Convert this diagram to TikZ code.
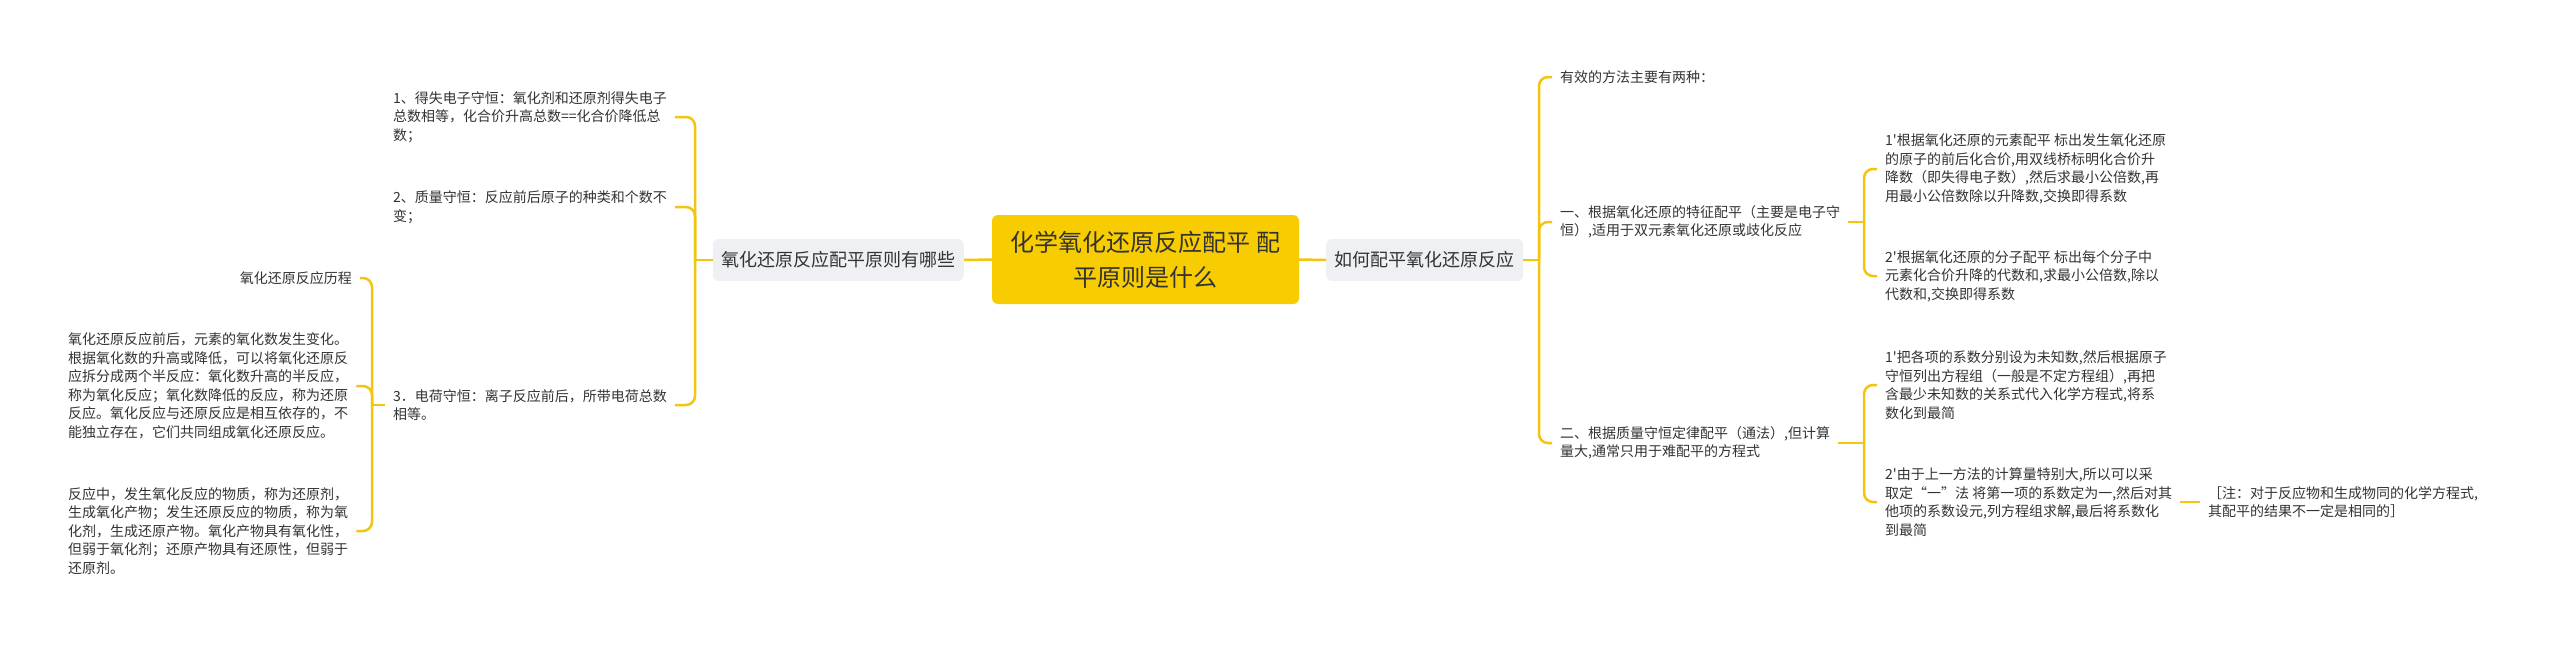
\documentclass[tikz,border=0pt]{standalone}
\usepackage{fontspec}
\newfontfamily\cjk{Noto Sans CJK SC}
\setmainfont{Noto Sans CJK SC}
\definecolor{lineY}{HTML}{F2C511}
\definecolor{rootY}{HTML}{F7CC00}
\definecolor{subG}{HTML}{EEF0F4}
\definecolor{txt}{HTML}{333333}
\begin{document}
\begin{tikzpicture}[x=1pt,y=-1pt,
  leaf/.style={font=\cjk\fontsize{14}{18.5}\selectfont, text=txt, align=left, inner xsep=8pt, inner ysep=2pt},
  root/.style={fill=rootY, rounded corners=6pt, minimum width=307pt, minimum height=89pt, font=\cjk\fontsize{24}{35}\selectfont, align=center, text=txt},
  sub/.style={fill=subG, rounded corners=6pt, minimum height=42pt, font=\cjk\fontsize{18}{22}\selectfont, text=txt, inner xsep=8.5pt},
  link/.style={draw=lineY, line width=2.5pt, rounded corners=9pt}]
\useasboundingbox (0,0) rectangle (2560,645);
\fill[white] (0,0) rectangle (2560,645);

% root and level 1
\node[root] (root) at (1145.5,259.5) {化学氧化还原反应配平 配\\平原则是什么};
\node[sub, anchor=east] (L) at (964,260) {氧化还原反应配平原则有哪些};
\node[sub, anchor=west] (R) at (1326,260) {如何配平氧化还原反应};
\draw[link] (root.west) -- (L.east);
\draw[link] (root.east) -- (R.west);

% left leaves
\node[leaf, anchor=west] (l1) at (385,117) {1、得失电子守恒：氧化剂和还原剂得失电子\\总数相等，化合价升高总数==化合价降低总\\数；};
\node[leaf, anchor=west] (l2) at (385,207) {2、质量守恒：反应前后原子的种类和个数不\\变；};
\node[leaf, anchor=west] (l3) at (385,405) {3．电荷守恒：离子反应前后，所带电荷总数\\相等。};
\coordinate (bL) at (695,260);
\draw[link] (L.west) -- (bL);
\draw[link] (bL) |- (l1.east);
\draw[link] (bL) |- (l2.east);
\draw[link] (bL) |- (l3.east);

\node[leaf, anchor=east] (m1) at (360,278) {氧化还原反应历程};
\node[leaf, anchor=west] (m2) at (60,386) {氧化还原反应前后，元素的氧化数发生变化。\\根据氧化数的升高或降低，可以将氧化还原反\\应拆分成两个半反应：氧化数升高的半反应，\\称为氧化反应；氧化数降低的反应，称为还原\\反应。氧化反应与还原反应是相互依存的，不\\能独立存在，它们共同组成氧化还原反应。};
\node[leaf, anchor=west] (m3) at (60,531) {反应中，发生氧化反应的物质，称为还原剂，\\生成氧化产物；发生还原反应的物质，称为氧\\化剂，生成还原产物。氧化产物具有氧化性，\\但弱于氧化剂；还原产物具有还原性，但弱于\\还原剂。};
\coordinate (b3) at (372,405);
\draw[link] (l3.west) -- (b3);
\draw[link] (b3) |- (m1.east);
\draw[link] (b3) |- (m2.east);
\draw[link] (b3) |- (m3.east);

% right leaves
\coordinate (bR) at (1539,260);
\node[leaf, anchor=west] (r0) at (1552,77) {有效的方法主要有两种：};
\node[leaf, anchor=west] (r1) at (1552,222) {一、根据氧化还原的特征配平（主要是电子守\\恒）,适用于双元素氧化还原或歧化反应};
\node[leaf, anchor=west] (r2) at (1552,443) {二、根据质量守恒定律配平（通法）,但计算\\量大,通常只用于难配平的方程式};
\draw[link] (R.east) -- (bR);
\draw[link] (bR) |- (r0.west);
\draw[link] (bR) |- (r1.west);
\draw[link] (bR) |- (r2.west);

\coordinate (b1) at (1864,222);
\node[leaf, anchor=west] (r11) at (1877,169) {1'根据氧化还原的元素配平 标出发生氧化还原\\的原子的前后化合价,用双线桥标明化合价升\\降数（即失得电子数）,然后求最小公倍数,再\\用最小公倍数除以升降数,交换即得系数};
\node[leaf, anchor=west] (r12) at (1877,276) {2'根据氧化还原的分子配平 标出每个分子中\\元素化合价升降的代数和,求最小公倍数,除以\\代数和,交换即得系数};
\draw[link] (r1.east) -- (b1);
\draw[link] (b1) |- (r11.west);
\draw[link] (b1) |- (r12.west);

\coordinate (b2) at (1864,443);
\node[leaf, anchor=west] (r21) at (1877,385) {1'把各项的系数分别设为未知数,然后根据原子\\守恒列出方程组（一般是不定方程组）,再把\\含最少未知数的关系式代入化学方程式,将系\\数化到最简};
\node[leaf, anchor=west] (r22) at (1877,502) {2'由于上一方法的计算量特别大,所以可以采\\取定“一”法 将第一项的系数定为一,然后对其\\他项的系数设元,列方程组求解,最后将系数化\\到最简};
\draw[link] (r2.east) -- (b2);
\draw[link] (b2) |- (r21.west);
\draw[link] (b2) |- (r22.west);

\node[leaf, anchor=west] (r221) at (2200,502) {［注：对于反应物和生成物同的化学方程式,\\其配平的结果不一定是相同的］};
\draw[link] (r22.east) -- (r221.west);
\end{tikzpicture}
\end{document}
